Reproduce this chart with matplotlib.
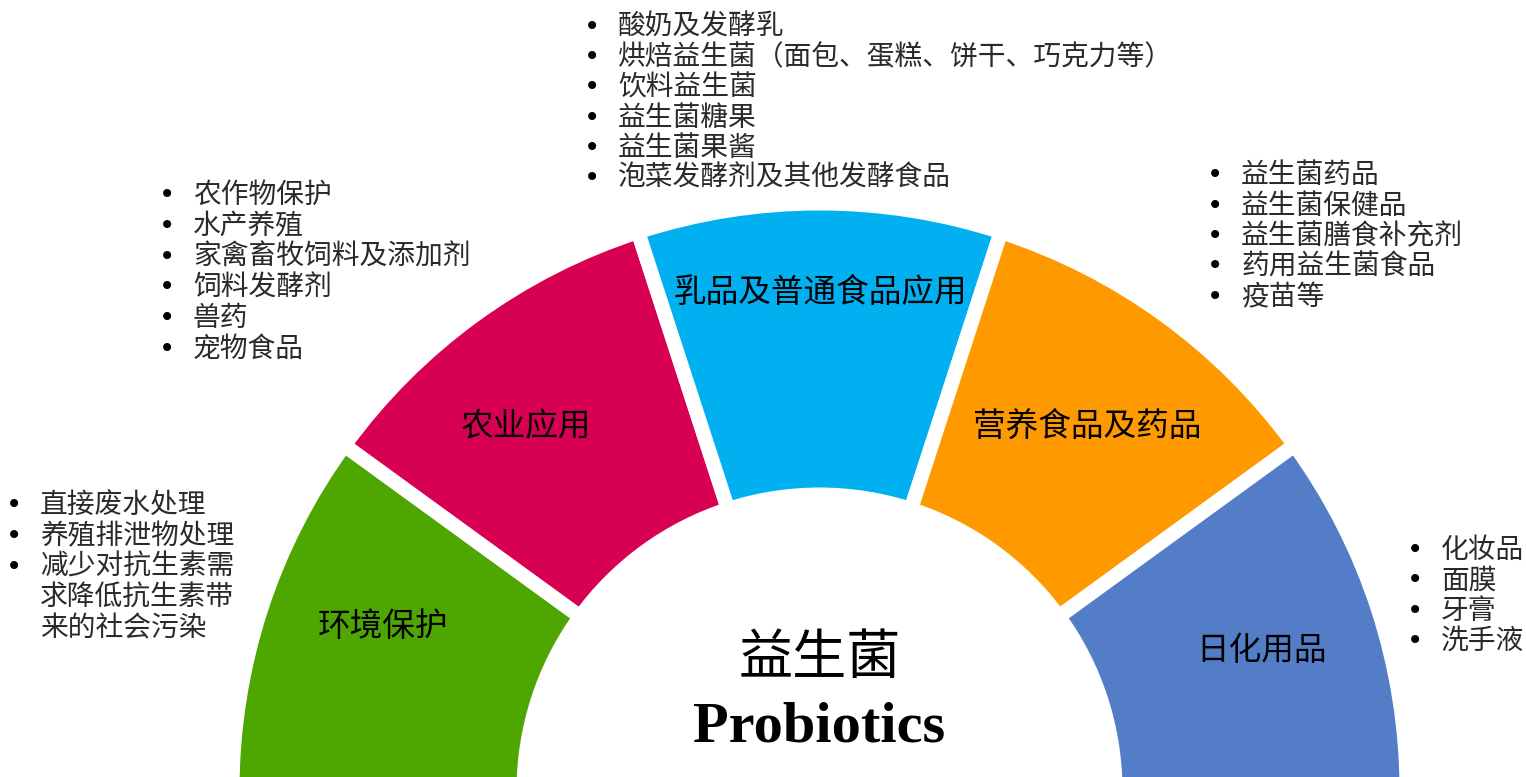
import matplotlib
matplotlib.use('Agg')
import matplotlib.pyplot as plt

plt.rcParams['font.family'] = ['Noto Sans CJK SC', 'DejaVu Sans']

W, H = 1526, 777

# segments of the half ring, left to right
segments = ['环境保护', '农业应用', '乳品及普通食品应用', '营养食品及药品', '日化用品']
shares = [1, 1, 1, 1, 1]
colors = ['#4EA600', '#D80053', '#00B0F0', '#FF9900', '#537EC7']

# items listed beside every segment
env_items = ['直接废水处理', '养殖排泄物处理', '减少对抗生素需\n求降低抗生素带\n来的社会污染']
agri_items = ['农作物保护', '水产养殖', '家禽畜牧饲料及添加剂', '饲料发酵剂', '兽药', '宠物食品']
food_items = ['酸奶及发酵乳', '烘焙益生菌（面包、蛋糕、饼干、巧克力等）', '饮料益生菌',
              '益生菌糖果', '益生菌果酱', '泡菜发酵剂及其他发酵食品']
med_items = ['益生菌药品', '益生菌保健品', '益生菌膳食补充剂', '药用益生菌食品', '疫苗等']
daily_items = ['化妆品', '面膜', '牙膏', '洗手液']

fig = plt.figure(figsize=(W / 100, H / 100), dpi=100)
ax = fig.add_axes([0, 0, 1, 1])

# ring geometry (pixels), white gap drawn as edge line
r_out, r_in, gap = 580, 303, 14.5
lw = gap * 72 / 100
cx, cy = 819.5, H - 790.5

wedges, _ = ax.pie(shares + [sum(shares)], colors=colors + ['none'],
                   startangle=180, counterclock=False,
                   radius=r_out + gap / 2, center=(cx, cy),
                   wedgeprops=dict(width=(r_out - r_in) + gap, edgecolor='white',
                                   linewidth=lw, joinstyle='miter'))
wedges[-1].set_visible(False)

ax.set_xlim(0, W)
ax.set_ylim(0, H)
ax.set_aspect('equal')
ax.axis('off')

# segment labels
label_pos = [(383, 627), (526, 427), (820, 293), (1087, 427), (1262, 651)]
for name, (x, y) in zip(segments, label_pos):
    ax.text(x, H - y, name, fontsize=23.5, fontweight='medium',
            ha='center', va='center', color='black')

# center title
ax.text(cx, H - 658, '益生菌', fontsize=39, ha='center', va='center', color='black')
ax.text(cx, H - 727, 'Probiotics', fontsize=42, fontweight='bold',
        family='Liberation Serif', ha='center', va='center', color='black')


def bullet_list(items, xb, y0, step):
    row = 0
    for item in items:
        for k, line in enumerate(item.split('\n')):
            y = H - (y0 + row * step)
            if k == 0:
                ax.text(xb, y, '•', fontsize=20, ha='left', va='center', color='black',
                        family='DejaVu Sans')
            ax.text(xb + 34, y, line, fontsize=20, ha='left', va='center',
                    color='#2a2a2a', fontweight='light')
            row += 1


bullet_list(env_items, 6, 505, 30.8)
bullet_list(agri_items, 159, 195, 30.8)
bullet_list(food_items, 584, 27, 30.2)
bullet_list(med_items, 1207, 175, 30.5)
bullet_list(daily_items, 1407, 550, 30.3)

fig.savefig('out.png', dpi=100)
